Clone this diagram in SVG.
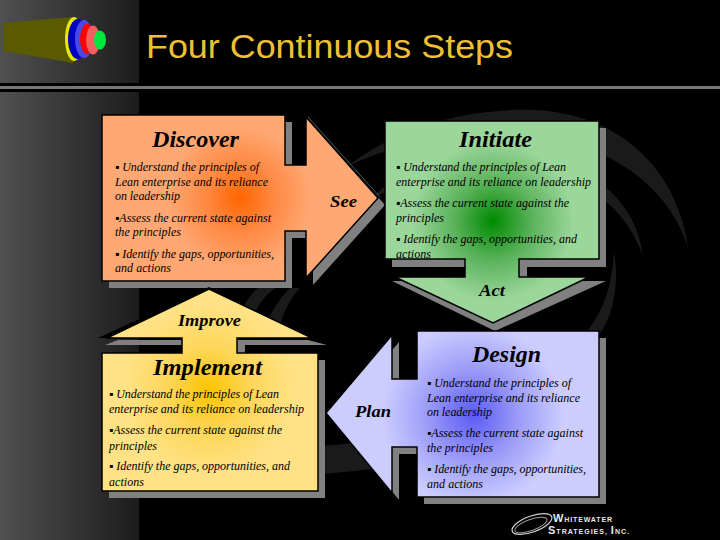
<svg xmlns="http://www.w3.org/2000/svg" width="720" height="540" viewBox="0 0 720 540">
<style>
.b{font-family:"Liberation Serif","Times New Roman",serif;font-style:italic;font-size:12px;fill:#000}
.t{font-family:"Liberation Serif","Times New Roman",serif;font-style:italic;font-weight:bold;fill:#000}
.h{font-size:23px}
.l{font-size:16px}
.s{fill:#808080}
.o{stroke:#000;stroke-width:1.5;stroke-linejoin:miter}
.sw{fill:#1a1a1a}
.w{font-family:"Liberation Sans",Arial,sans-serif;font-weight:bold;fill:#e8e8e8}
</style>
<defs>
<linearGradient id="side" x1="0" x2="1" y1="0" y2="0"><stop offset="0" stop-color="#505050"/><stop offset="1" stop-color="#1c1c1c"/></linearGradient>
<radialGradient id="go" gradientUnits="userSpaceOnUse" cx="240" cy="198" r="72"><stop offset="0" stop-color="#ff6600"/><stop offset=".5" stop-color="#ff8a45"/><stop offset="1" stop-color="#ffa874"/></radialGradient>
<radialGradient id="gg" gradientUnits="userSpaceOnUse" cx="493" cy="221" r="80"><stop offset="0" stop-color="#008a00"/><stop offset=".5" stop-color="#5cb35c"/><stop offset="1" stop-color="#9bd69b"/></radialGradient>
<radialGradient id="gy" gradientUnits="userSpaceOnUse" cx="209" cy="390" r="85"><stop offset="0" stop-color="#fbc400"/><stop offset=".5" stop-color="#fdd65a"/><stop offset="1" stop-color="#ffe285"/></radialGradient>
<radialGradient id="gb" gradientUnits="userSpaceOnUse" cx="473" cy="415" r="90"><stop offset="0" stop-color="#5a5af5"/><stop offset=".5" stop-color="#9a9af8"/><stop offset="1" stop-color="#ccccff"/></radialGradient>
</defs>
<rect width="720" height="540" fill="#000"/>
<g id="background">
<rect x="0" y="0" width="139" height="83" fill="url(#side)"/>
<rect x="0" y="92" width="139" height="448" fill="url(#side)"/>
<rect x="0" y="86" width="720" height="3" fill="#777"/>
<path class="sw" d="M345 168C400 125 470 108 535 110C620 114 678 170 688 248C672 195 625 155 560 140C480 125 400 140 345 168Z"/>
<path class="sw" d="M372 198C400 170 440 150 500 150C570 152 636 190 643 256C632 225 610 200 590 192C520 170 430 170 372 198Z"/>
<path class="sw" d="M614 252C620 285 612 320 598 336L588 330C604 310 612 285 614 252Z"/>
<path class="sw" d="M237 320C243 305 250 295 258 288H275C262 298 255 310 250 325Z"/>
<path class="sw" d="M268 322C272 310 280 298 290 288H300C290 298 285 310 281 322Z"/>
<path class="sw" d="M322 446C345 444 370 442 395 436V465C370 470 345 472 322 474Z"/>
</g>
<g id="logo">
<path d="M3 23L73 17V63L3 51Z" fill="#5a5a00"/>
<ellipse cx="74" cy="39" rx="9" ry="22" fill="#e8e800"/>
<ellipse cx="78" cy="39" rx="10" ry="20" fill="#0000c8"/>
<ellipse cx="84" cy="39" rx="9" ry="19" fill="#4a4ae0"/>
<ellipse cx="87" cy="39" rx="7" ry="15" fill="#ff0000"/>
<ellipse cx="93" cy="40" rx="7" ry="14.500" fill="#f06060"/>
<ellipse cx="100" cy="40" rx="6" ry="9.500" fill="#00e840"/>
</g>
<text x="146" y="58" font-family="Liberation Sans, Arial, sans-serif" font-size="34" fill="#efc034" textLength="367" lengthAdjust="spacingAndGlyphs">Four Continuous Steps</text>
<g id="connectors"></g>
<g id="discover">
<path class="s" transform="translate(7 7)" d="M102 115H285V165H306V117L378 198L306 278V231H285V281H102Z"/>
<path class="o" fill="url(#go)" d="M102 115H285V165H306V117L378 198L306 278V231H285V281H102Z"/>
<path d="M308 117L380 197" fill="none" stroke="#5f8080" stroke-width=".7"/>
<text class="t h" x="152" y="147" textLength="87" lengthAdjust="spacingAndGlyphs">Discover</text>
<text class="b" x="115" y="171" textLength="144" lengthAdjust="spacing">▪ Understand the principles of</text>
<text class="b" x="115" y="186" textLength="153" lengthAdjust="spacing">Lean enterprise and its reliance</text>
<text class="b" x="115" y="200" textLength="65" lengthAdjust="spacing">on leadership</text>
<text class="b" x="115" y="222" textLength="156" lengthAdjust="spacing">▪Assess the current state against</text>
<text class="b" x="115" y="236" textLength="66" lengthAdjust="spacing">the principles</text>
<text class="b" x="115" y="258" textLength="159" lengthAdjust="spacing">▪ Identify the gaps, opportunities,</text>
<text class="b" x="115" y="272" textLength="56" lengthAdjust="spacing">and actions</text>
<text class="t l" x="330" y="207" textLength="27" lengthAdjust="spacingAndGlyphs">See</text>
</g>
<g id="initiate">
<path class="s" d="M392 128H606V267H527V277H519V267H392Z"/>
<path class="s" d="M392 281L495 331L606 281Z"/>
<path class="o" fill="url(#gg)" d="M385 121H599V259H519V277H589L493 323L395 277H465V259H385Z"/>
<text class="t h" x="459" y="147" textLength="73" lengthAdjust="spacingAndGlyphs">Initiate</text>
<text class="b" x="396" y="171" textLength="170" lengthAdjust="spacing">▪ Understand the principles of Lean</text>
<text class="b" x="396" y="186" textLength="195" lengthAdjust="spacing">enterprise and its reliance on leadership</text>
<text class="b" x="396" y="207" textLength="173" lengthAdjust="spacing">▪Assess the current state against the</text>
<text class="b" x="396" y="222" textLength="48" lengthAdjust="spacing">principles</text>
<text class="b" x="396" y="243" textLength="181" lengthAdjust="spacing">▪ Identify the gaps, opportunities, and</text>
<text class="b" x="396" y="258" textLength="35" lengthAdjust="spacing">actions</text>
<text class="t l" x="479" y="296" textLength="26" lengthAdjust="spacingAndGlyphs">Act</text>
</g>
<g id="implement">
<path class="s" d="M109 360H325V498H109Z"/>
<path class="s" d="M105 345L118 340H182V345Z"/>
<path class="s" d="M237 353V340H308L327 345H245V353Z"/>
<path d="M98 338L209 287L215 290L110 338Z" fill="#000"/>
<path class="o" fill="url(#gy)" d="M102 353H182V338H107L209 289L312 338H237V353H318V491H102Z"/>
<text class="t h" x="153" y="375" textLength="109" lengthAdjust="spacingAndGlyphs">Implement</text>
<text class="b" x="109" y="398" textLength="170" lengthAdjust="spacing">▪ Understand the principles of Lean</text>
<text class="b" x="109" y="413" textLength="195" lengthAdjust="spacing">enterprise and its reliance on leadership</text>
<text class="b" x="109" y="434" textLength="173" lengthAdjust="spacing">▪Assess the current state against the</text>
<text class="b" x="109" y="450" textLength="48" lengthAdjust="spacing">principles</text>
<text class="b" x="109" y="470" textLength="181" lengthAdjust="spacing">▪ Identify the gaps, opportunities, and</text>
<text class="b" x="109" y="486" textLength="35" lengthAdjust="spacing">actions</text>
<text class="t l" x="178" y="326" textLength="63" lengthAdjust="spacingAndGlyphs">Improve</text>
</g>
<g id="design">
<path class="s" transform="translate(7 7)" d="M417 331H599V497H417V447H392V493L326 413L392 335V379H417Z"/>
<path class="o" fill="url(#gb)" d="M417 331H599V497H417V447H392V493L326 413L392 335V379H417Z"/>
<text class="t h" x="472" y="362" textLength="69" lengthAdjust="spacingAndGlyphs">Design</text>
<text class="b" x="427" y="387" textLength="144" lengthAdjust="spacing">▪ Understand the principles of</text>
<text class="b" x="427" y="402" textLength="153" lengthAdjust="spacing">Lean enterprise and its reliance</text>
<text class="b" x="427" y="416" textLength="65" lengthAdjust="spacing">on leadership</text>
<text class="b" x="427" y="437" textLength="156" lengthAdjust="spacing">▪Assess the current state against</text>
<text class="b" x="427" y="452" textLength="66" lengthAdjust="spacing">the principles</text>
<text class="b" x="427" y="473" textLength="159" lengthAdjust="spacing">▪ Identify the gaps, opportunities,</text>
<text class="b" x="427" y="488" textLength="56" lengthAdjust="spacing">and actions</text>
<text class="t l" x="355" y="417" textLength="36" lengthAdjust="spacingAndGlyphs">Plan</text>
</g>
<g id="brand">
<ellipse cx="532" cy="524" rx="21" ry="8" transform="rotate(-20 532 524)" fill="none" stroke="#cfcfcf" stroke-width="1.200"/>
<ellipse cx="531" cy="525" rx="17" ry="5.500" transform="rotate(-20 531 525)" fill="none" stroke="#9a9a9a" stroke-width="1"/>
<text class="w" x="553" y="522" font-size="7" textLength="59" lengthAdjust="spacing"><tspan font-size="11">W</tspan>HITEWATER</text>
<text class="w" x="548" y="534" font-size="7" textLength="81" lengthAdjust="spacing"><tspan font-size="11">S</tspan>TRATEGIES, <tspan font-size="11">I</tspan>NC.</text>
</g>
</svg>
